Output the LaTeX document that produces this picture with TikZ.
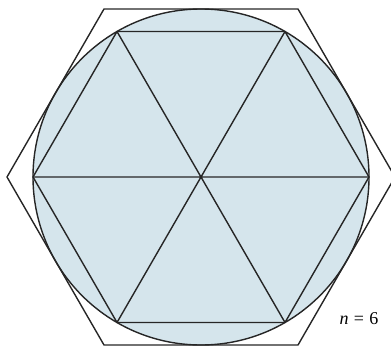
\documentclass[tikz,border=0pt]{standalone}
\usepackage{fontspec}
\setmainfont{Liberation Serif}
\usetikzlibrary{calc}
\begin{document}
\begin{tikzpicture}[x=1pt,y=-1pt,
  edge/.style={draw=black!85,line width=1.4pt,line join=round}]
\useasboundingbox (0,0) rectangle (391,348);
\coordinate (O) at (201,177);
\fill[fill={rgb,255:red,213;green,229;blue,236}] (O) circle (168);
% inner hexagon vertices
\foreach \a [count=\i] in {0,60,...,300}
  \coordinate (P\i) at ($(O)+(\a:168)$);
% outer hexagon vertices
\foreach \a [count=\i] in {0,60,...,300}
  \coordinate (Q\i) at ($(O)+(\a:194)$);
\draw[edge] (O) circle (168);
\draw[edge] (P1)--(P2)--(P3)--(P4)--(P5)--(P6)--cycle;
\draw[edge] (Q1)--(Q2)--(Q3)--(Q4)--(Q5)--(Q6)--cycle;
\draw[edge] (P1)--(P4) (P2)--(P5) (P3)--(P6);
\node[font=\fontsize{18}{21}\selectfont] (lbl) at (359,319) {\textit{n}\hspace{0.3em}=\hspace{0.3em}6};
\end{tikzpicture}
\end{document}
